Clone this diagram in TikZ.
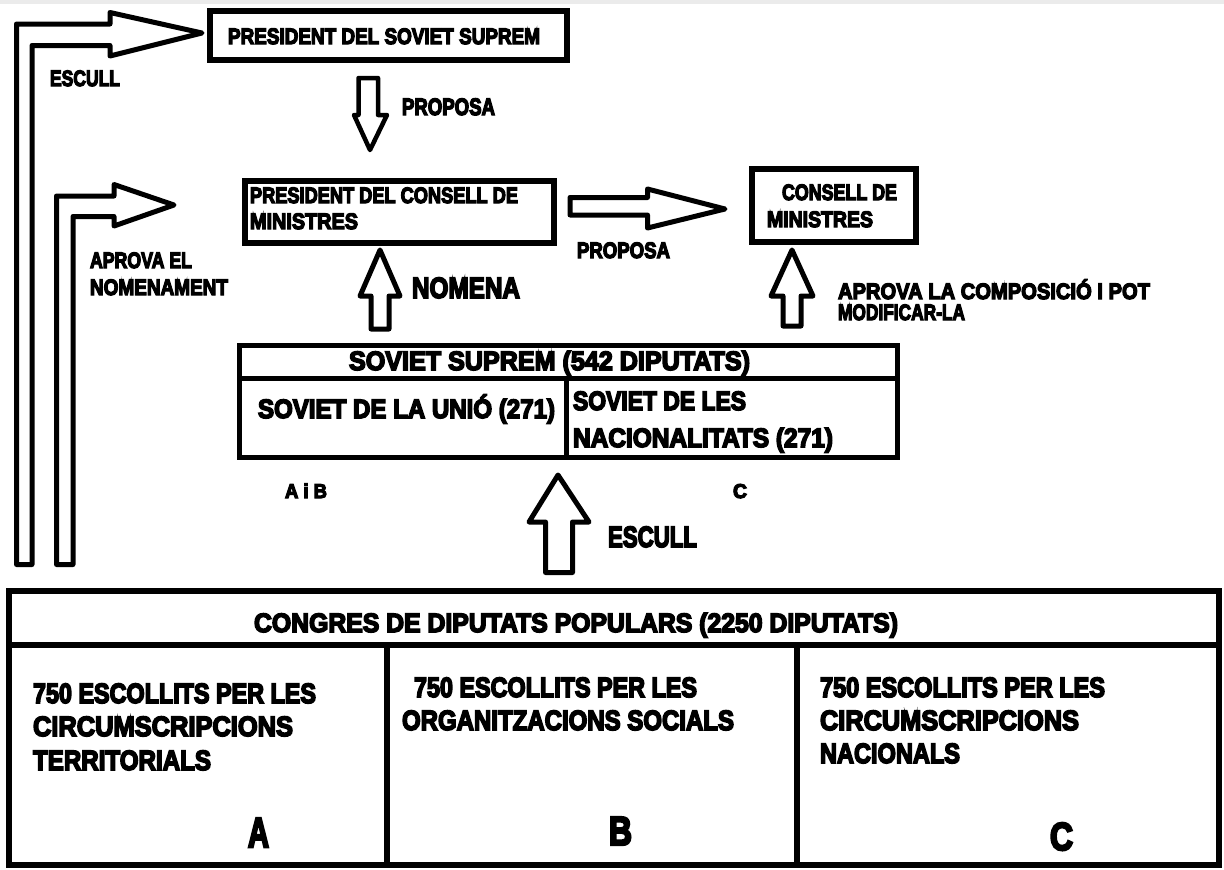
\documentclass[tikz,border=0pt]{standalone}
\usepackage{fontspec}
\usepackage{graphicx}
\newfontfamily\imp{Liberation Sans}[FakeBold=6]
\newcommand\fw[2]{\resizebox{#1pt}{\height}{#2}}
\tikzset{
  box/.style={draw, line width=5pt, inner sep=0pt, outer sep=0pt},
  ln/.style={line width=5pt},
  barrow/.style={draw, line width=5pt, line join=round, fill=white},
  lbl/.style={inner sep=0pt, outer sep=0pt, anchor=base west,
    font=\imp\bfseries\fontsize{#1}{#1}\selectfont},
}
\begin{document}
\begin{tikzpicture}[x=1pt,y=-1pt]
\useasboundingbox (0,0) rectangle (1224,870);
\fill[black!8] (0,0) rectangle (1224,4);

% boxes
\node[box, line width=6pt, minimum width=357pt, minimum height=49pt] (pss) at (388.5,35.5) {};
\node[box, line width=6pt, minimum width=308.5pt, minimum height=62pt] (pcm) at (399.25,212) {};
\node[box, line width=6pt, minimum width=164.5pt, minimum height=73pt] (cm) at (833.75,205) {};
\node[box, minimum width=658pt, minimum height=112pt] (sov) at (568.5,401.5) {};
\node[box, line width=6pt, minimum width=1210pt, minimum height=274pt] (cong) at (614,728) {};

\coordinate (sovh) at (0,378);
\coordinate (sovd) at (566,0);
\draw[ln] (sov.west |- sovh) -- (sov.east |- sovh);
\draw[ln] (sovd |- sovh) -- (sovd |- sov.south);

\coordinate (congh) at (0,645);
\coordinate (congd1) at (387,0);
\coordinate (congd2) at (797,0);
\draw[ln, line width=6pt] (cong.west |- congh) -- (cong.east |- congh);
\draw[ln, line width=6pt] (congd1 |- congh) -- (congd1 |- cong.south);
\draw[ln, line width=6pt] (congd2 |- congh) -- (congd2 |- cong.south);

% block arrows
\draw[barrow] (16.5,564.5) -- (16.5,24) -- (110,24) -- (110,12.5) -- (202,33) -- (110,56) -- (110,45.5) -- (32,45.5) -- (32,564.5) -- cycle;
\draw[barrow] (56.5,564.5) -- (56.5,196) -- (114,196) -- (114,184.5) -- (174,205) -- (114,226) -- (114,216.5) -- (73,216.5) -- (73,564.5) -- cycle;
\draw[barrow, line width=4.5pt] (358.5,78) -- (378,78) -- (378,115) -- (387,115) -- (370,150) -- (354,115) -- (358.5,115) -- cycle;
\draw[barrow] (570,197.5) -- (647.5,197.5) -- (647.5,189) -- (725,209) -- (647.5,228) -- (647.5,215) -- (570,215) -- cycle;
\draw[barrow] (371,329) -- (371,296) -- (360,296) -- (380,250) -- (400,296) -- (389,296) -- (389,329) -- cycle;
\draw[barrow] (783,326) -- (783,296) -- (771,296) -- (792,250) -- (813,296) -- (801,296) -- (801,326) -- cycle;
\draw[barrow] (545.5,572.5) -- (545.5,522) -- (529,522) -- (558,475) -- (589,522) -- (572.5,522) -- (572.5,572.5) -- cycle;

% labels
\node[lbl=22.3] (l1) at (50,86) {\fw{70}{ESCULL}};
\node[lbl=23.7] (l2) at (402,115) {\fw{93}{PROPOSA}};
\node[lbl=22.3] (l3) at (228,44) {\fw{312}{PRESIDENT DEL SOVIET SUPREM}};
\node[lbl=22.3] (l4) at (250,203) {\fw{268}{PRESIDENT DEL CONSELL DE}};
\node[lbl=22.3] (l5) at (250,229) {\fw{108}{MINISTRES}};
\node[lbl=22.3] (l6) at (782,200) {\fw{115}{CONSELL DE}};
\node[lbl=22.3] (l7) at (767,227) {\fw{106}{MINISTRES}};
\node[lbl=22.3] (l8) at (577,258) {\fw{93}{PROPOSA}};
\node[lbl=22.3] (l9) at (90,268) {\fw{102}{APROVA EL}};
\node[lbl=22.3] (l10) at (90,295) {\fw{138}{NOMENAMENT}};
\node[lbl=29.3] (l11) at (412,298) {\fw{108}{NOMENA}};
\node[lbl=22.3] (l12) at (838,299) {\fw{312}{APROVA LA COMPOSICIÓ I POT}};
\node[lbl=22.3] (l13) at (838,320) {\fw{127}{MODIFICAR-LA}};
\node[lbl=26.5] (l14) at (349,370) {\fw{401}{SOVIET SUPREM (542 DIPUTATS)}};
\node[lbl=26.5] (l15) at (258,418) {\fw{297}{SOVIET DE LA UNIÓ (271)}};
\node[lbl=26.5] (l16) at (573,410) {\fw{173}{SOVIET DE LES}};
\node[lbl=26.5] (l17) at (573,447) {\fw{260}{NACIONALITATS (271)}};
\node[lbl=20] (l18) at (285,498) {\fw{42}{A i B}};
\node[lbl=20] (l19) at (733,498) {\fw{14}{C}};
\node[lbl=29.3] (l20) at (608,547) {\fw{89}{ESCULL}};
\node[lbl=26.5] (l21) at (254,632) {\fw{644}{CONGRES DE DIPUTATS POPULARS (2250 DIPUTATS)}};
\node[lbl=27.9] (l22) at (33,703) {\fw{283}{750 ESCOLLITS PER LES}};
\node[lbl=27.9] (l23) at (33,736) {\fw{260}{CIRCUMSCRIPCIONS}};
\node[lbl=27.9] (l24) at (33,770) {\fw{178}{TERRITORIALS}};
\node[lbl=27.9] (l25) at (414,697) {\fw{283}{750 ESCOLLITS PER LES}};
\node[lbl=27.9] (l26) at (402,730) {\fw{332}{ORGANITZACIONS SOCIALS}};
\node[lbl=27.9] (l27) at (820,697) {\fw{285}{750 ESCOLLITS PER LES}};
\node[lbl=27.9] (l28) at (820,730) {\fw{259}{CIRCUMSCRIPCIONS}};
\node[lbl=27.9] (l29) at (820,763) {\fw{140}{NACIONALS}};
\node[lbl=41.9] (l30) at (248,847) {\fw{21}{A}};
\node[lbl=40.5] (l31) at (609,845) {\fw{23}{B}};
\node[lbl=39] (l32) at (1050,850) {\fw{23}{C}};
\end{tikzpicture}
\end{document}
